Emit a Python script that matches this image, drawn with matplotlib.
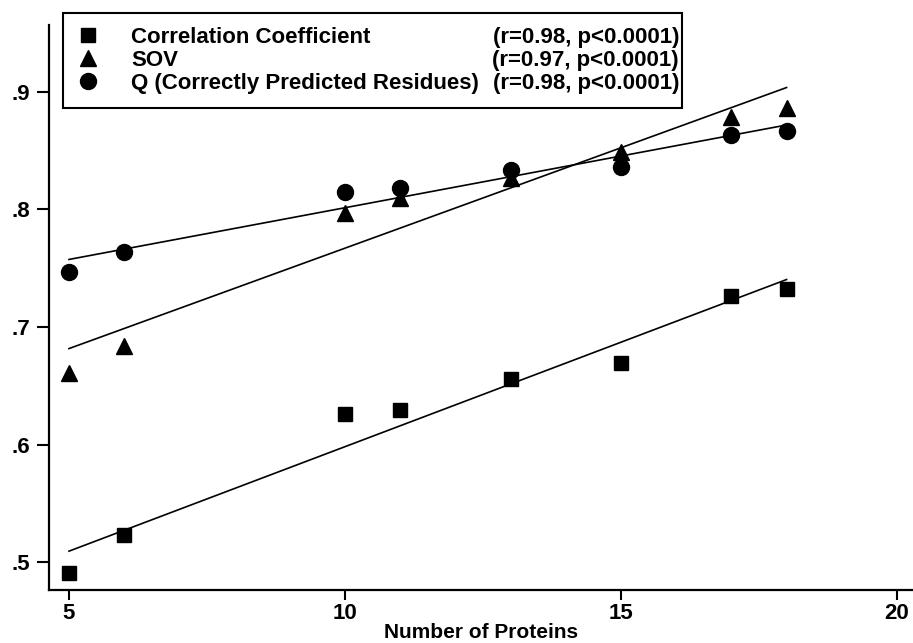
import numpy as np
import matplotlib
matplotlib.use('Agg')
import matplotlib.pyplot as plt
from matplotlib.ticker import FuncFormatter

plt.rcParams['font.family'] = ['Liberation Sans', 'DejaVu Sans']
plt.rcParams['font.weight'] = 'bold'

# data
n_proteins = [5, 6, 10, 11, 13, 15, 17, 18]
corr_coef = [0.491, 0.523, 0.626, 0.629, 0.656, 0.669, 0.726, 0.732]
sov = [0.661, 0.684, 0.797, 0.810, 0.827, 0.849, 0.879, 0.886]
q_res = [0.747, 0.764, 0.815, 0.818, 0.834, 0.836, 0.863, 0.867]

labels = ['Correlation Coefficient', 'SOV', 'Q (Correctly Predicted Residues)']
stats = ['(r=0.98, p<0.0001)', '(r=0.97, p<0.0001)', '(r=0.98, p<0.0001)']
x_ticks = [5, 10, 15, 20]
y_ticks = [0.5, 0.6, 0.7, 0.8, 0.9]

W, H = 913, 643
fig = plt.figure(figsize=(W / 100, H / 100), dpi=100)
ax = fig.add_axes([49 / W, 1 - 590 / H, (W - 49) / W, (590 - 25) / H])

series = [(corr_coef, 's', 9.5), (sov, '^', 11.5), (q_res, 'o', 11.5)]
handles = []
x = np.array(n_proteins)
for ys, mk, ms in series:
    h, = ax.plot(x, ys, linestyle='none', marker=mk, markersize=ms,
                 color='black')
    handles.append(h)
    # least squares fit line
    k, b = np.polyfit(x, ys, 1)
    ax.plot([x.min(), x.max()], [k * x.min() + b, k * x.max() + b],
            color='black', linewidth=1.2)

ax.set_xlim(4.638, 20.29)
ax.set_ylim(0.4762, 0.957)
ax.set_xticks(x_ticks)
ax.set_yticks(y_ticks)
ax.yaxis.set_major_formatter(FuncFormatter(lambda v, p: ('%.1f' % v).lstrip('0')))
ax.tick_params(axis='x', direction='out', length=7.5, width=1.5, pad=2,
               labelsize=16)
ax.tick_params(axis='y', direction='out', length=8.6, width=1.5, pad=5,
               labelsize=16)
for s in ['top', 'right']:
    ax.spines[s].set_visible(False)
for s in ['left', 'bottom']:
    ax.spines[s].set_linewidth(1.6)

ax.set_xlabel('Number of Proteins', fontsize=15, fontweight='bold')
ax.xaxis.set_label_coords(0.5, -0.058)

leg = fig.legend(handles, labels, loc='upper left',
                 bbox_to_anchor=(63 / W, 1 - 13 / H, (682 - 63) / W, 0),
                 mode='expand', borderaxespad=0,
                 prop={'weight': 'bold', 'size': 16},
                 handlelength=1.0, handletextpad=1.45, borderpad=0.62,
                 labelspacing=0.1, fancybox=False, edgecolor='black',
                 framealpha=1)
leg.get_frame().set_linewidth(1.5)

fig.canvas.draw()
# r / p values right aligned in the legend rows
for txt, s in zip(leg.get_texts(), stats):
    bb = txt.get_window_extent()
    yc = (bb.y0 + bb.y1) / 2 / H
    fig.text(679 / W, yc, s, ha='right', va='center', fontsize=16,
             fontweight='bold', zorder=10)

fig.savefig('out.png', dpi=100)
